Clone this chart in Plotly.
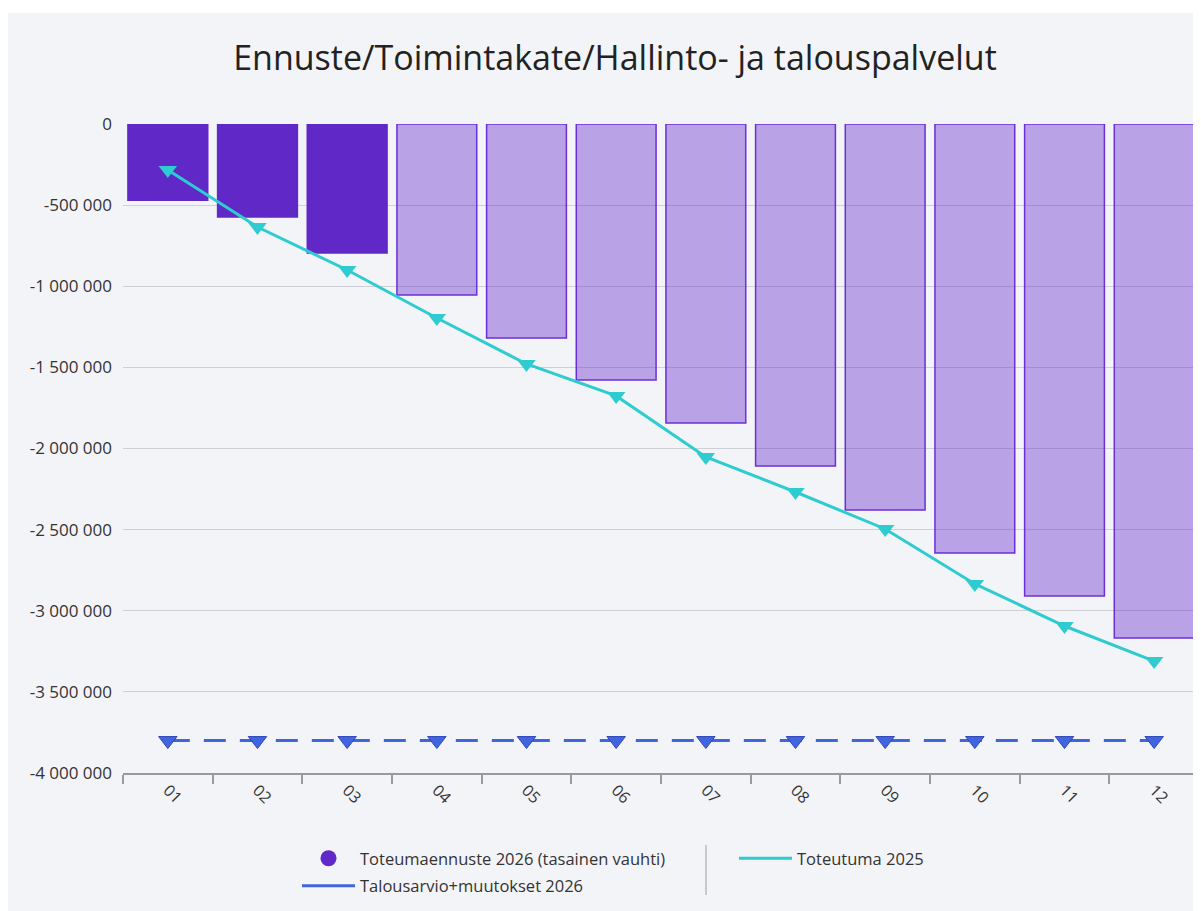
import plotly.graph_objects as go

months = ["01", "02", "03", "04", "05", "06", "07", "08", "09", "10", "11", "12"]
forecast_2026 = [-470000, -573000, -795000, -1054000, -1319000, -1578000,
                 -1843000, -2108000, -2379000, -2644000, -2909000, -3168000]
is_actual = [True, True, True, False, False, False, False, False, False, False, False, False]
actual_2025 = [-284000, -635000, -900000, -1196000, -1479000, -1676000,
               -2052000, -2268000, -2496000, -2835000, -3094000, -3310000]
budget_2026 = [-3800000] * 12

y_tickvals = [0, -500000, -1000000, -1500000, -2000000, -2500000, -3000000, -3500000, -4000000]
y_ticktext = ["0", "-500 000", "-1 000 000", "-1 500 000", "-2 000 000", "-2 500 000",
              "-3 000 000", "-3 500 000", "-4 000 000"]

title_text = "Ennuste/Toimintakate/Hallinto- ja talouspalvelut"
name_forecast = "Toteumaennuste 2026 (tasainen vauhti)"
name_budget = "Talousarvio+muutokset 2026"
name_actual = "Toteutuma 2025"

PURPLE = "#6128C8"
PURPLE_LIGHT = "rgba(97,40,200,0.40)"
CYAN = "#2ECBD1"
BLUE = "#3F66DE"

OFF = 8  # page body margin
W, H = 1201 - OFF, 911 - OFF
L, R, T, B = 123 - OFF, 2, 124 - OFF, H - (773 - OFF)
pw, ph = W - L - R, H - T - B

def px_x(x):
    return (x - OFF - L) / pw

def px_y(y):
    return (H - B - (y - OFF)) / ph

fig = go.Figure()

fig.add_trace(go.Bar(
    x=months, y=forecast_2026,
    marker=dict(color=[PURPLE if a else PURPLE_LIGHT for a in is_actual],
                line=dict(color=["#6128C8" if a else "#6A30D8" for a in is_actual], width=1.5)),
    showlegend=False, name=name_forecast,
))

fig.add_trace(go.Scatter(
    x=months, y=actual_2025, mode="lines+markers",
    line=dict(color=CYAN, width=3),
    marker=dict(symbol="triangle-down", size=16, color=CYAN),
    showlegend=False, name=name_actual,
))

fig.add_trace(go.Scatter(
    x=months, y=budget_2026, mode="lines+markers",
    line=dict(color=BLUE, width=3, dash="22px,14px"),
    marker=dict(symbol="triangle-down", size=16, color=BLUE, line=dict(color="#3346B8", width=1)),
    showlegend=False, name=name_budget,
))

# legend entries
fig.add_trace(go.Scatter(x=[None], y=[None], mode="markers", name=name_forecast,
                         marker=dict(symbol="circle", size=18, color=PURPLE),
                         legend="legend", legendgroup="a"))
fig.add_trace(go.Scatter(x=[None], y=[None], mode="lines", name=name_budget,
                         line=dict(color=BLUE, width=3),
                         legend="legend", legendgroup="b"))
fig.add_trace(go.Scatter(x=[None], y=[None], mode="lines", name=name_actual,
                         line=dict(color=CYAN, width=3),
                         legend="legend2", legendgroup="c"))

fig.update_layout(
    width=W, height=H,
    margin=dict(l=L, r=R, t=T, b=B),
    paper_bgcolor="white",
    plot_bgcolor="rgba(0,0,0,0)",
    font=dict(family="Open Sans, sans-serif", color="#333333"),
    title=dict(text=title_text, x=(615 - OFF) / W, xanchor="center",
               y=1 - (58 - OFF) / H, yanchor="middle",
               font=dict(size=34, color="#222222")),
    bargap=0.11,
    xaxis=dict(type="category", range=[-0.5, 11.5], tickangle=45, tickson="boundaries",
               ticks="outside", ticklen=9, tickwidth=2, tickcolor="#9A9A9A",
               showline=True, linecolor="#9A9A9A", linewidth=1.5,
               showgrid=False, tickfont=dict(size=16, color="#333333")),
    yaxis=dict(range=[-4000000, 0], tickvals=y_tickvals, ticktext=y_ticktext,
               showgrid=True, gridcolor="#CFCFD6", gridwidth=1, zeroline=False,
               showline=False, ticks="", ticklabelstandoff=10,
               tickfont=dict(size=17, color="#333333")),
    legend=dict(x=px_x(297), xanchor="left", y=px_y(841), yanchor="top",
                orientation="v", bgcolor="rgba(0,0,0,0)", itemwidth=53,
                tracegroupgap=3, font=dict(size=16.5, color="#333333")),
    legend2=dict(x=px_x(734), xanchor="left", y=px_y(841), yanchor="top",
                 orientation="v", bgcolor="rgba(0,0,0,0)", itemwidth=53,
                 font=dict(size=16.5, color="#333333")),
    shapes=[
        dict(type="rect", xref="paper", yref="paper", layer="below",
             x0=px_x(0), x1=px_x(1215), y0=px_y(13), y1=px_y(925),
             fillcolor="#F3F4F8", line=dict(width=0)),
        dict(type="line", xref="paper", yref="paper",
             x0=px_x(706), x1=px_x(706), y0=px_y(845), y1=px_y(895),
             line=dict(color="#C8C8C8", width=2)),
    ],
)

fig.write_html("out.html")
